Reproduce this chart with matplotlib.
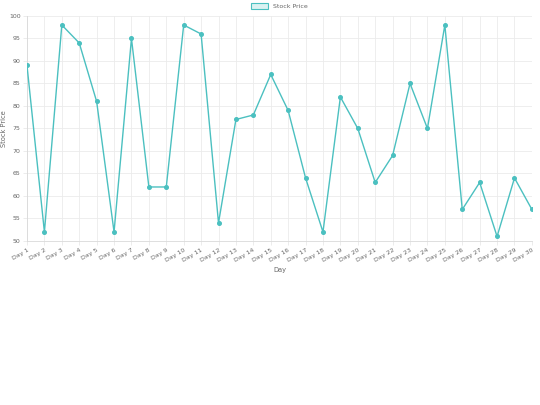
import matplotlib
matplotlib.use('Agg')
import matplotlib.pyplot as plt
import numpy as np

days = ['Day %d' % i for i in range(1, 31)]
prices = [89, 52, 98, 94, 81, 52, 95, 62, 62, 98,
          96, 54, 77, 78, 87, 79, 64, 52, 82, 75,
          63, 69, 85, 75, 98, 57, 63, 51, 64, 57]
y_ticks = [50, 55, 60, 65, 70, 75, 80, 85, 90, 95, 100]

teal = (75/255, 192/255, 192/255)
grey = '#666666'

fig = plt.figure(figsize=(5.4, 4.05), dpi=100)
ax = fig.add_axes([0.05, 0.405, 0.935, 0.5555])

x = np.arange(len(days))
ax.plot(x, prices, color=teal, lw=1.0, marker='o', ms=2.6, zorder=3)

ax.set_xlim(0, len(days) - 1)
ax.set_ylim(50, 100)
ax.set_yticks(y_ticks)
ax.set_xticks(x)
ax.set_xticklabels(days, rotation=30, ha='right', rotation_mode='anchor')
ax.tick_params(labelsize=4.5, colors=grey, length=3, width=0.5, color='#e5e5e5', pad=1.5)
ax.grid(True, color='#ebebeb', lw=0.6)
ax.set_axisbelow(True)
for s in ['top', 'right']:
    ax.spines[s].set_visible(False)
for s in ['left', 'bottom']:
    ax.spines[s].set_color('#d9d9d9')
    ax.spines[s].set_linewidth(0.6)

ax.set_xlabel('Day', fontsize=4.8, color=grey, labelpad=3)
ax.set_ylabel('Stock Price', fontsize=4.8, color=grey, labelpad=1)
ax.yaxis.set_label_coords(-0.039, 0.5)

leg = ax.legend(handles=[plt.Rectangle((0, 0), 1, 1, facecolor=(75/255, 192/255, 192/255, 0.2),
                                       edgecolor=teal, lw=0.8)],
                labels=['Stock Price'], loc='lower center', bbox_to_anchor=(0.5, 1.005),
                frameon=False, fontsize=4.5, handlelength=2.6, handleheight=0.9)
for t in leg.get_texts():
    t.set_color(grey)

fig.savefig('out.png', dpi=100)
